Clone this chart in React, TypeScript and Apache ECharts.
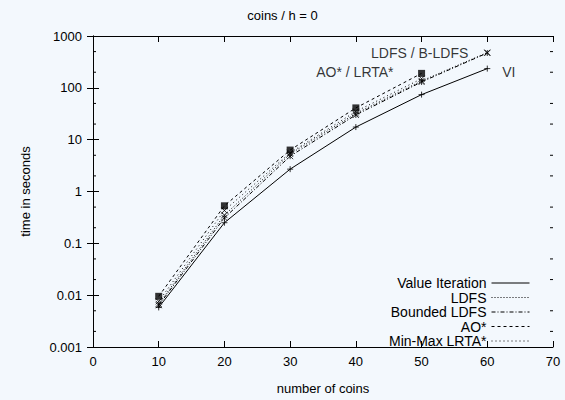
import React, { useEffect, useRef } from 'react';
import * as echarts from 'echarts';

const FONT = '"Liberation Sans", Arial, Helvetica, sans-serif';

const titleText = 'coins / h = 0';
const xAxisName = 'number of coins';
const yAxisName = 'time in seconds';

const coins = [10, 20, 30, 40, 50, 60];
const seriesNames = ['Value Iteration', 'LDFS', 'Bounded LDFS', 'AO*', 'Min-Max LRTA*'];
const viValues = [0.0058, 0.25, 2.7, 17.5, 74, 235];
const ldfsValues = [0.0068, 0.35, 5.3, 32, 136, 480];
const bldfsValues = [0.0064, 0.31, 4.8, 30, 130, 470];
const aoValues = [0.0095, 0.53, 6.3, 41, 190];
const lrtaValues = [0.0076, 0.43, 5.6, 35, 150];

const yTickLabels = ['0.001', '0.01', '0.1', '1', '10', '100', '1000'];
const minorTickValues = [0.002, 0.005, 0.02, 0.05, 0.2, 0.5, 2, 5, 20, 50, 200, 500];
const annotationTexts = ['LDFS / B-LDFS', 'AO* / LRTA*', 'VI'];

const allValues = [viValues, ldfsValues, bldfsValues, aoValues, lrtaValues];
const dashTypes: any[] = ['solid', [1, 2], [4, 2, 1, 2], [3, 3], [1, 3]];
const plusPath = 'path://M5,0L5,10M0,5L10,5';
const crossPath = 'path://M0,0L10,10M10,0L0,10';
const starPath = 'path://M0,0L10,10M10,0L0,10M5,0L5,10';
const markerSymbols = [plusPath, crossPath, starPath, 'rect', crossPath];

export default function App() {
  const ref = useRef<HTMLDivElement>(null);
  useEffect(() => {
    const chart = echarts.init(ref.current!, null, { renderer: 'svg' });

    const lineSeries = seriesNames.map((name, si) => ({
      name,
      type: 'line',
      data: allValues[si].map((v, i) => [coins[i], v]),
      symbol: 'none',
      lineStyle: { color: '#000', width: 1, type: dashTypes[si] },
      itemStyle: { color: '#000' },
      z: 3,
    }));

    const markerSeries = seriesNames.map((_, si) => {
      const filled = markerSymbols[si] === 'rect';
      return {
        type: 'scatter',
        data: allValues[si].map((v, i) => [coins[i], v]),
        symbol: markerSymbols[si],
        symbolSize: filled ? 7 : 6,
        itemStyle: filled
          ? { color: '#000' }
          : { color: 'none', borderColor: '#000', borderWidth: 1 },
        silent: true,
        z: 4,
      };
    });

    const annotationSeries = {
      type: 'scatter',
      symbolSize: 0,
      silent: true,
      z: 5,
      data: [
        {
          value: [coins[5], ldfsValues[5]],
          label: { show: true, formatter: annotationTexts[0], position: 'left', distance: 19 },
        },
        {
          value: [coins[4], aoValues[4]],
          label: { show: true, formatter: annotationTexts[1], position: 'left', distance: 28, offset: [0, -1] },
        },
        {
          value: [coins[5], viValues[5]],
          label: { show: true, formatter: annotationTexts[2], position: 'right', distance: 15, offset: [0, 3] },
        },
      ],
      label: { fontSize: 14, fontFamily: FONT, color: '#000' },
    };

    const minorTickSeries = {
      type: 'custom',
      silent: true,
      clip: false,
      data: minorTickValues.map((v) => [0, v]),
      renderItem: (params: any, api: any) => {
        const v = api.value(1);
        const l = api.coord([0, v]);
        const r = api.coord([70, v]);
        return {
          type: 'group',
          children: [
            { type: 'line', shape: { x1: l[0], y1: l[1], x2: l[0] + 3, y2: l[1] }, style: { stroke: '#000', lineWidth: 1 } },
            { type: 'line', shape: { x1: r[0] - 3, y1: r[1], x2: r[0], y2: r[1] }, style: { stroke: '#000', lineWidth: 1 } },
          ],
        };
      },
    };

    const axisCommon = {
      axisLine: { show: true, lineStyle: { color: '#000', width: 1 } },
      axisTick: { show: true, inside: true, length: 6, lineStyle: { color: '#000' } },
      splitLine: { show: false },
    };

    chart.setOption({
      animation: false,
      backgroundColor: '#f3f8fd',
      textStyle: { fontFamily: FONT },
      title: {
        text: titleText,
        left: 'center',
        top: 9,
        padding: 0,
        textStyle: { fontSize: 13, fontWeight: 'normal', color: '#000', fontFamily: FONT },
      },
      grid: { left: 93, right: 12, top: 36, bottom: 47 },
      legend: {
        data: seriesNames,
        orient: 'vertical',
        right: 30,
        top: 271,
        align: 'right',
        itemWidth: 38,
        itemHeight: 10,
        itemGap: 0.5,
        selectedMode: false,
        itemStyle: { opacity: 0 },
        lineStyle: { width: 1 },
        textStyle: { fontSize: 14, fontFamily: FONT, color: '#000', lineHeight: 14 },
      },
      xAxis: [
        {
          type: 'value',
          min: 0,
          max: 70,
          interval: 10,
          position: 'bottom',
          name: xAxisName,
          nameLocation: 'middle',
          nameGap: 35,
          nameTextStyle: { fontSize: 13, color: '#000', fontFamily: FONT },
          axisLabel: { fontSize: 13, color: '#000', margin: 8, fontFamily: FONT },
          ...axisCommon,
        },
        {
          type: 'value',
          min: 0,
          max: 70,
          interval: 10,
          position: 'top',
          axisLabel: { show: false },
          ...axisCommon,
        },
      ],
      yAxis: [
        {
          type: 'log',
          logBase: 10,
          min: 0.001,
          max: 1000,
          position: 'left',
          name: yAxisName,
          nameLocation: 'middle',
          nameGap: 61,
          nameRotate: 90,
          nameTextStyle: { fontSize: 13, color: '#000', fontFamily: FONT },
          axisLabel: {
            fontSize: 13,
            color: '#000',
            margin: 11,
            fontFamily: FONT,
            formatter: (v: number) => yTickLabels[Math.round(Math.log10(v)) + 3],
          },
          ...axisCommon,
        },
        {
          type: 'log',
          logBase: 10,
          min: 0.001,
          max: 1000,
          position: 'right',
          axisLabel: { show: false },
          ...axisCommon,
        },
      ],
      series: [...lineSeries, ...markerSeries, annotationSeries, minorTickSeries],
    });

    return () => chart.dispose();
  }, []);

  return (
    <div
      ref={ref}
      style={{ width: 565, height: 400, position: 'absolute', left: 0, top: 0 }}
    />
  );
}
